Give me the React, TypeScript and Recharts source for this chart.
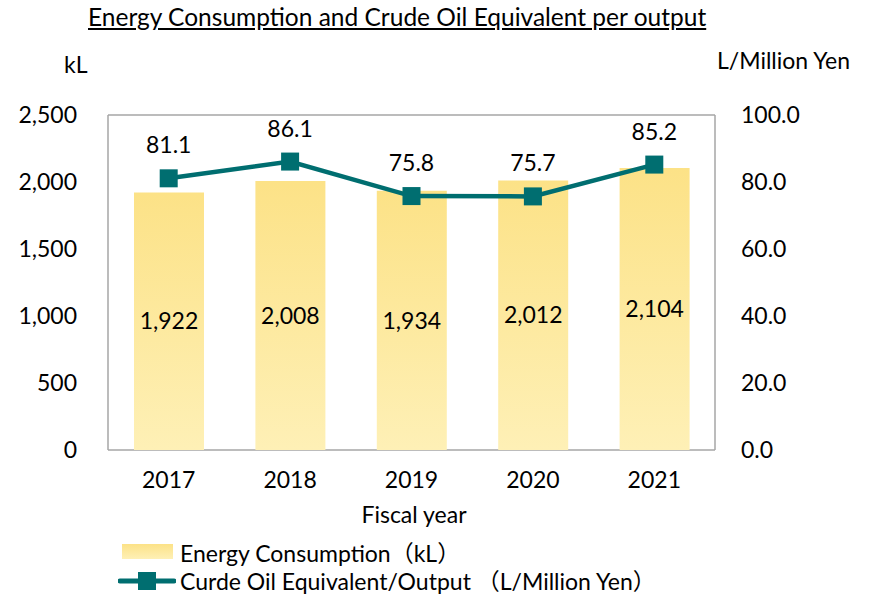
import React from 'react';
import {
  ComposedChart, Bar, Line, XAxis, YAxis, CartesianGrid, LabelList,
} from 'recharts';

const years = ['2017', '2018', '2019', '2020', '2021'];
const energyKl = [1922, 2008, 1934, 2012, 2104];
const oilPerOutput = [81.1, 86.1, 75.8, 75.7, 85.2];
const leftTicks = [0, 500, 1000, 1500, 2000, 2500];
const rightTicks = [0, 20, 40, 60, 80, 100];

const FONT = 'Lato, Carlito, "Noto Sans CJK JP", sans-serif';
const TEAL = '#006E70';
const FS = 23;

const data = years.map((y, i) => ({ year: y, energy: energyKl[i], oil: oilPerOutput[i] }));

const tickStyle = { fontSize: FS, fill: '#000', fontFamily: FONT };

const SquareDot = (props: any) => {
  const { cx, cy } = props;
  if (cx == null || cy == null) return null;
  return <rect x={cx - 9} y={cy - 9} width={18} height={18} fill={TEAL} />;
};

export default function App() {
  return (
    <div style={{ position: 'absolute', left: 0, top: 0, width: 869, height: 595, background: '#fff', fontFamily: FONT, overflow: 'hidden' }}>
      <div style={{ position: 'absolute', left: 88, top: 2, fontSize: 24.5, textDecoration: 'underline', whiteSpace: 'nowrap' }}>
        Energy Consumption and Crude Oil Equivalent per output
      </div>
      <div style={{ position: 'absolute', left: 64, top: 50, fontSize: FS }}>kL</div>
      <div style={{ position: 'absolute', left: 717, top: 46, fontSize: FS, whiteSpace: 'nowrap' }}>L/Million Yen</div>
      <div style={{ position: 'absolute', left: 0, width: 828, top: 500, fontSize: FS, textAlign: 'center' }}>Fiscal year</div>

      <ComposedChart
        width={869}
        height={595}
        data={data}
        margin={{ top: 115, right: 84, bottom: 115, left: 48 }}
        style={{ position: 'absolute', left: 0, top: 0 }}
      >
        <defs>
          <linearGradient id="barFill" x1="0" y1="0" x2="0" y2="1">
            <stop offset="0%" stopColor="#FCE287" />
            <stop offset="100%" stopColor="#FEF0B6" />
          </linearGradient>
        </defs>
        <CartesianGrid
          stroke="#A6A6A6"
          strokeWidth={1.5}
          verticalCoordinatesGenerator={({ offset }: any) => [offset.left, offset.left + offset.width]}
        />
        <XAxis
          dataKey="year"
          height={30}
          axisLine={false}
          tickLine={false}
          tickSize={0}
          tickMargin={22}
          tick={tickStyle}
        />
        <YAxis
          yAxisId="left"
          width={60}
          domain={[0, 2500]}
          ticks={leftTicks}
          axisLine={false}
          tickLine={false}
          tickSize={0}
          tickMargin={31}
          tick={tickStyle}
          tickFormatter={(v: number) => v.toLocaleString('en-US')}
          interval={0}
        />
        <YAxis
          yAxisId="right"
          orientation="right"
          width={70}
          domain={[0, 100]}
          ticks={rightTicks}
          axisLine={false}
          tickLine={false}
          tickSize={0}
          tickMargin={26}
          tick={tickStyle}
          tickFormatter={(v: number) => v.toFixed(1)}
          interval={0}
        />
        <Bar yAxisId="left" dataKey="energy" fill="url(#barFill)" barSize={70} isAnimationActive={false}>
          <LabelList
            dataKey="energy"
            position="center"
            formatter={(v: any) => Number(v).toLocaleString('en-US')}
            style={{ fontSize: FS, fill: '#000', fontFamily: FONT }}
          />
        </Bar>
        <Line
          yAxisId="right"
          dataKey="oil"
          stroke={TEAL}
          strokeWidth={4.5}
          dot={<SquareDot />}
          activeDot={false}
          isAnimationActive={false}
        >
          <LabelList
            dataKey="oil"
            position="top"
            offset={25}
            formatter={(v: any) => Number(v).toFixed(1)}
            style={{ fontSize: FS, fill: '#000', fontFamily: FONT }}
          />
        </Line>
      </ComposedChart>

      <div style={{ position: 'absolute', left: 122, top: 544, width: 51, height: 15, background: 'linear-gradient(#FCE287, #FEF0B6)' }} />
      <div style={{ position: 'absolute', left: 180, top: 535, fontSize: FS, whiteSpace: 'nowrap' }}>Energy Consumption（kL）</div>
      <svg style={{ position: 'absolute', left: 118, top: 569 }} width={58} height={24}>
        <line x1={2} y1={12} x2={56} y2={12} stroke={TEAL} strokeWidth={5} strokeLinecap="round" />
        <rect x={20} y={3} width={18} height={18} fill={TEAL} />
      </svg>
      <div style={{ position: 'absolute', left: 180, top: 563, fontSize: FS, whiteSpace: 'nowrap' }}>Curde Oil Equivalent/Output （L/Million Yen）</div>
    </div>
  );
}
